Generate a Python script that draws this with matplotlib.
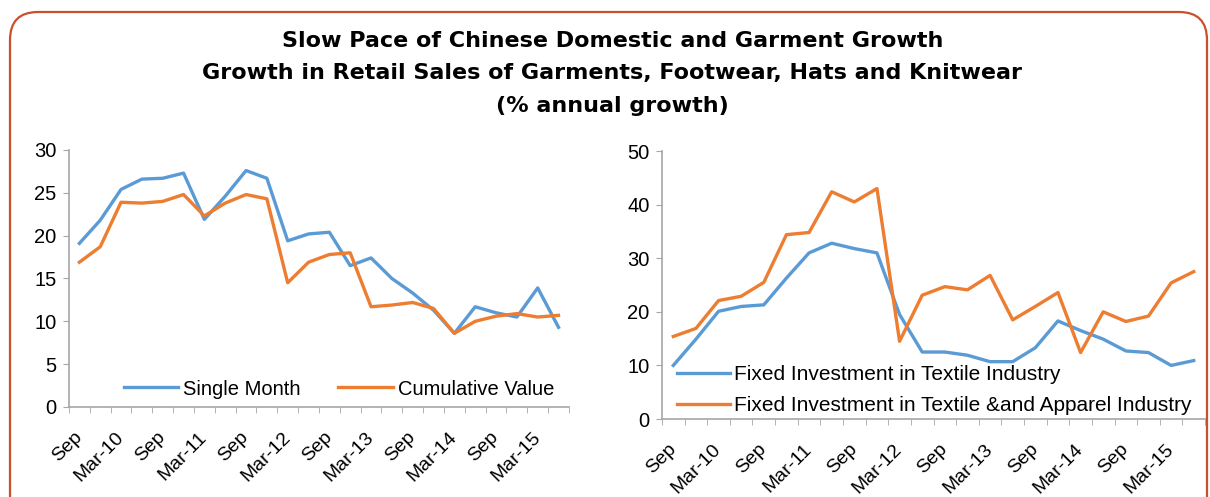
import matplotlib
matplotlib.use("Agg")
import matplotlib.pyplot as plt
from matplotlib.patches import FancyBboxPatch
from matplotlib.transforms import IdentityTransform, ScaledTranslation

# quarterly, Sep-09 .. Jun-15
quarters = ['Sep', 'Dec', 'Mar-10', 'Jun', 'Sep', 'Dec', 'Mar-11', 'Jun',
            'Sep', 'Dec', 'Mar-12', 'Jun', 'Sep', 'Dec', 'Mar-13', 'Jun',
            'Sep', 'Dec', 'Mar-14', 'Jun', 'Sep', 'Dec', 'Mar-15', 'Jun']

single_month = [19.1, 21.8, 25.4, 26.6, 26.7, 27.3, 21.9, 24.6, 27.6, 26.7,
                19.4, 20.2, 20.4, 16.5, 17.4, 15.0, 13.3, 11.3, 8.6, 11.7,
                11.0, 10.5, 13.9, 9.3]
cumulative = [16.9, 18.7, 23.9, 23.8, 24.0, 24.8, 22.3, 23.8, 24.8, 24.3,
              14.5, 16.9, 17.8, 18.0, 11.7, 11.9, 12.2, 11.5, 8.6, 10.0,
              10.6, 10.9, 10.5, 10.7]

textile = [10.0, 14.9, 20.1, 21.0, 21.3, 26.3, 31.0, 32.8, 31.8, 31.0,
           19.5, 12.5, 12.5, 11.9, 10.7, 10.7, 13.3, 18.3, 16.5, 14.9,
           12.7, 12.4, 10.0, 10.9]
textile_apparel = [15.4, 16.9, 22.1, 22.9, 25.5, 34.4, 34.8, 42.4, 40.5, 43.0,
                   14.5, 23.1, 24.7, 24.1, 26.8, 18.5, 21.0, 23.6, 12.4, 20.0,
                   18.2, 19.2, 25.4, 27.5]

BLUE = '#5B9BD5'
ORANGE = '#ED7D31'
GREY = '#A6A6A6'
SANS = ['Liberation Sans', 'DejaVu Sans']

fig = plt.figure(figsize=(12.10, 4.97), dpi=100)

# rounded frame
frame = FancyBboxPatch((10, -40), 1197, 525, boxstyle='round,pad=0,rounding_size=28',
                       transform=IdentityTransform(), fill=False,
                       edgecolor='#C8502D', linewidth=1.6)
fig.patches.append(frame)

fig.text(0.506, 0.853, 'Slow Pace of Chinese Domestic and Garment Growth\n'
         'Growth in Retail Sales of Garments, Footwear, Hats and Knitwear\n'
         '(% annual growth)', ha='center', va='center', fontsize=16,
         fontweight='bold', family='DejaVu Sans', linespacing=1.78)


def style_axes(ax, ymax, ystep):
    n = len(quarters)
    ax.set_xlim(-0.5, n - 0.5)
    ax.set_ylim(0, ymax)
    ax.set_yticks(range(0, ymax + 1, ystep))
    ax.set_xticks(list(range(n))[::2])
    ax.set_xticklabels(quarters[::2], rotation=45, ha='right', va='center',
                       rotation_mode='anchor', fontsize=14, family=SANS)
    shift = ScaledTranslation(6 / 100, 0, fig.dpi_scale_trans)
    for lab in ax.get_xticklabels():
        lab.set_transform(lab.get_transform() + shift)
    ax.set_xticks([i - 0.5 for i in range(n + 1)], minor=True)
    ax.tick_params(axis='x', which='major', length=0, pad=20)
    ax.tick_params(axis='x', which='minor', length=4, color=GREY)
    ax.tick_params(axis='y', length=4, color=GREY, labelsize=14.5, pad=5)
    for lab in ax.get_yticklabels():
        lab.set_family(SANS)
    for s in ['top', 'right']:
        ax.spines[s].set_visible(False)
    for s in ['left', 'bottom']:
        ax.spines[s].set_color(GREY)
        ax.spines[s].set_linewidth(1.2)


ax1 = fig.add_axes([0.0570, 0.1811, 0.4132, 0.5171])
ax1.plot(range(len(quarters)), single_month, color=BLUE, lw=2.4, label='Single Month')
ax1.plot(range(len(quarters)), cumulative, color=ORANGE, lw=2.4, label='Cumulative Value')
style_axes(ax1, 30, 5)
ax1.legend(loc='center left', ncol=2, frameon=False, handlelength=2.7,
           handletextpad=0.25, columnspacing=1.85, borderpad=0, borderaxespad=0,
           bbox_to_anchor=(0.11, 0.07), prop={'family': SANS, 'size': 14.5})

ax2 = fig.add_axes([0.5471, 0.1569, 0.4488, 0.5392])
ax2.plot(range(len(quarters)), textile, color=BLUE, lw=2.4,
         label='Fixed Investment in Textile Industry')
ax2.plot(range(len(quarters)), textile_apparel, color=ORANGE, lw=2.4,
         label='Fixed Investment in Textile &and Apparel Industry')
style_axes(ax2, 50, 10)
ax2.legend(loc='center left', frameon=False, handlelength=2.55, handletextpad=0.2,
           labelspacing=0.55, borderpad=0, borderaxespad=0,
           bbox_to_anchor=(0.0276, 0.108), prop={'family': SANS, 'size': 15})

fig.savefig('out.png', dpi=100)
